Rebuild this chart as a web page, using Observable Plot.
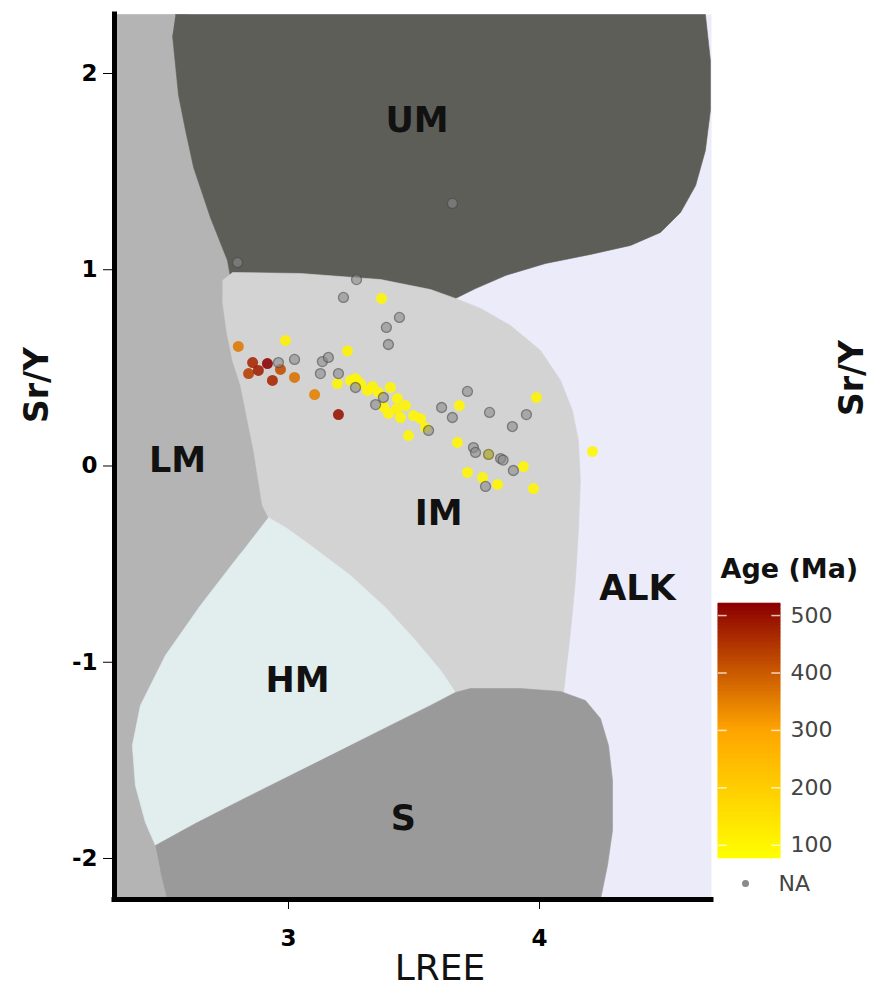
<!DOCTYPE html>
<html>
<head>
<meta charset="utf-8">
<script src="https://cdn.jsdelivr.net/npm/d3@7"></script>
<script src="https://cdn.jsdelivr.net/npm/@observablehq/plot@0.6"></script>
<style>
  body { margin: 0; background: #fff; font-family: "DejaVu Sans", sans-serif; }
  #wrap { position: relative; width: 871px; height: 991px; overflow: hidden; background: #fff; }
  #legend { position: absolute; left: 712px; top: 560px; }
</style>
</head>
<body>
<div id="wrap"><div id="main"></div><div id="legend"></div></div>
<script>
// ---------- axes ----------
const xDomain = [2.3068, 4.6853];
const yDomain = [-2.209, 2.3006];
const xTicks = [3, 4];
const yTicks = [-2, -1, 0, 1, 2];
const ageTicks = [100, 200, 300, 400, 500];
const ageDomain = [77, 521];

// ---------- classification fields (data units: LREE, Sr/Y) ----------
const regionLM = [[2.3068, 2.3006], [2.60, 2.3006], [2.70, 1.30], [2.80, 0.95], [2.85, 0.50], [2.95, -0.20], [2.95, -0.50], [2.60, -1.20], [2.60, -2.209], [2.3068, -2.209]];
const regionUM = [[2.550, 2.3006], [4.661, 2.3006], [4.681, 2.066], [4.681, 1.811], [4.661, 1.608], [4.622, 1.429], [4.562, 1.292], [4.482, 1.190], [4.363, 1.124], [4.203, 1.078], [4.024, 1.032], [3.865, 0.971], [3.745, 0.904], [3.665, 0.854], [3.526, 0.874], [3.247, 0.915], [2.888, 0.935], [2.769, 0.960], [2.757, 1.047], [2.689, 1.266], [2.622, 1.521], [2.590, 1.710], [2.562, 1.889], [2.550, 2.041], [2.538, 2.194]];
const regionIM = [[2.737, 0.945], [2.777, 0.986], [3.048, 0.981], [3.367, 0.950], [3.566, 0.899], [3.665, 0.854], [3.765, 0.803], [3.884, 0.716], [4.004, 0.589], [4.084, 0.436], [4.131, 0.283], [4.155, 0.130], [4.163, -0.074], [4.155, -0.329], [4.143, -0.583], [4.124, -0.838], [4.108, -1.017], [4.096, -1.154], [3.665, -1.154], [3.606, -1.042], [3.506, -0.889], [3.386, -0.721], [3.247, -0.558], [3.088, -0.405], [2.988, -0.313], [2.920, -0.262], [2.896, -0.201], [2.880, -0.074], [2.861, 0.079], [2.837, 0.232], [2.809, 0.410], [2.777, 0.538], [2.753, 0.690], [2.737, 0.843]];
const regionHM = [[2.920, -0.262], [2.988, -0.313], [3.088, -0.405], [3.247, -0.558], [3.386, -0.721], [3.506, -0.889], [3.606, -1.042], [3.665, -1.154], [3.566, -1.220], [3.406, -1.322], [3.207, -1.450], [3.008, -1.577], [2.809, -1.704], [2.629, -1.822], [2.470, -1.934], [2.430, -1.817], [2.390, -1.628], [2.378, -1.424], [2.410, -1.220], [2.510, -0.965], [2.649, -0.711], [2.809, -0.446]];
const regionS = [[2.470, -1.934], [2.629, -1.822], [2.809, -1.704], [3.008, -1.577], [3.207, -1.450], [3.406, -1.322], [3.566, -1.220], [3.665, -1.154], [3.725, -1.134], [3.924, -1.134], [4.084, -1.149], [4.183, -1.195], [4.243, -1.287], [4.275, -1.424], [4.291, -1.603], [4.291, -1.857], [4.271, -2.035], [4.243, -2.209], [2.518, -2.209], [2.490, -2.062]];

const regionNames = ["UM", "LM", "IM", "ALK", "HM", "S"];
const labelX = [3.512, 2.558, 3.598, 4.390, 3.036, 3.458];
const labelY = [1.758, 0.028, -0.242, -0.624, -1.093, -1.796];

// ---------- samples with age ----------
const ageX = [2.800, 2.988, 2.857, 2.841, 2.880, 2.916, 2.936, 2.968, 3.024, 3.104, 3.199,
  3.371, 3.235, 3.195, 3.247, 3.267, 3.287, 3.315, 3.335, 3.359, 3.406, 3.434, 3.398, 3.446, 3.466, 3.498, 3.526, 3.478, 3.546,
  3.681, 3.988, 3.673, 3.797, 3.936, 3.713, 3.773, 3.833, 3.976, 4.211, 3.380, 3.430];
const ageY = [0.609, 0.640, 0.527, 0.471, 0.487, 0.522, 0.436, 0.492, 0.451, 0.364, 0.262,
  0.854, 0.586, 0.420, 0.436, 0.446, 0.420, 0.385, 0.405, 0.375, 0.400, 0.344, 0.268, 0.247, 0.308, 0.257, 0.242, 0.155, 0.196,
  0.308, 0.349, 0.120, 0.059, -0.003, -0.033, -0.059, -0.094, -0.115, 0.074, 0.300, 0.290];
const ageMa = [360, 115, 470, 440, 480, 520, 470, 420, 370, 350, 500,
  100, 110, 105, 100, 100, 100, 100, 105, 100, 100, 100, 100, 100, 105, 100, 100, 100, 100,
  100, 105, 100, 110, 100, 100, 100, 100, 100, 100, 100, 110];

// ---------- samples without age (NA) ----------
const naX = [2.797, 3.653, 2.960, 3.024, 3.135, 3.159, 3.127, 3.199, 3.219, 3.271, 3.442, 3.390, 3.398, 3.267, 3.378, 3.347,
  3.558, 3.610, 3.653, 3.713, 3.801, 3.892, 3.948, 3.737, 3.745, 3.797, 3.845, 3.855, 3.896, 3.785];
const naY = [1.037, 1.338, 0.527, 0.543, 0.532, 0.553, 0.471, 0.471, 0.859, 0.950, 0.757, 0.706, 0.619, 0.400, 0.349, 0.313,
  0.181, 0.298, 0.247, 0.380, 0.273, 0.201, 0.262, 0.094, 0.069, 0.059, 0.038, 0.030, -0.023, -0.104];

const agePts = ageX.map((x, i) => ({x, y: ageY[i], age: ageMa[i]}));
const naPts = naX.map((x, i) => ({x, y: naY[i]}));

const colorOpts = {type: "linear", domain: [77, 299, 521], range: ["#ffff00", "#ffa500", "#8b0000"], interpolate: "rgb"};
const font = "DejaVu Sans";

const poly = (pts, fill) => Plot.line(pts, {x: d => d[0], y: d => d[1], fill, stroke: fill, strokeWidth: 0.6, curve: "linear"});

const main = Plot.plot({
  width: 871, height: 991,
  marginLeft: 114, marginRight: 160, marginTop: 14, marginBottom: 92,
  style: {fontFamily: font, background: "white"},
  x: {domain: xDomain},
  y: {domain: yDomain},
  color: colorOpts,
  marks: [
    Plot.frame({fill: "#ebebfa", stroke: "none"}),
    poly(regionLM, "#b4b4b4"),
    poly(regionUM, "#5e5e59"),
    poly(regionIM, "#d3d3d3"),
    poly(regionHM, "#e2eded"),
    poly(regionS, "#9a9a9a"),
    Plot.text(regionNames, {x: (d, i) => labelX[i], y: (d, i) => labelY[i], text: d => d, fontSize: 35, fontWeight: "bold", fill: "#111"}),
    Plot.dot(agePts, {x: "x", y: "y", fill: "age", r: 5.5, fillOpacity: 0.88}),
    Plot.dot(naPts, {x: "x", y: "y", fill: "#8a8a8a", fillOpacity: 0.6, stroke: "#444", strokeOpacity: 0.55, strokeWidth: 1.3, r: 5}),
    Plot.axisY({ticks: yTicks, tickSize: 11, tickPadding: 6, fontSize: 23, fontWeight: "bold", label: null, tickFormat: d => String(d)}),
    Plot.axisX({ticks: xTicks, tickSize: 10, tickPadding: 20, fontSize: 23, fontWeight: "bold", label: null, tickFormat: d => String(d)}),
    Plot.ruleX([xDomain[0]], {stroke: "#000", strokeWidth: 5, strokeLinecap: "square"}),
    Plot.ruleY([yDomain[0]], {stroke: "#000", strokeWidth: 5, strokeLinecap: "square"}),
    Plot.text(["LREE"], {frameAnchor: "bottom", textAnchor: "middle", dx: 27, dy: 80, fontSize: 36, fill: "#111"}),
    Plot.text(["Sr/Y"], {frameAnchor: "left", textAnchor: "middle", lineAnchor: "middle", dx: -77, dy: -72, rotate: -90, fontSize: 33, fontWeight: "bold", fill: "#111"}),
    Plot.text(["Sr/Y"], {frameAnchor: "right", textAnchor: "middle", lineAnchor: "middle", dx: 141, dy: -79, rotate: -90, fontSize: 33, fontWeight: "bold", fill: "#111"})
  ]
});
document.getElementById("main").appendChild(main);

const legend = Plot.plot({
  width: 159, height: 340,
  marginLeft: 6, marginRight: 91, marginTop: 43, marginBottom: 42,
  style: {fontFamily: font, background: "transparent", overflow: "visible"},
  x: {domain: [0, 1], axis: null},
  y: {domain: ageDomain, axis: null},
  color: colorOpts,
  marks: [
    Plot.rect(d3.range(ageDomain[0], ageDomain[1], 1), {x1: 0, x2: 1, y1: d => d, y2: d => Math.min(d + 1.3, ageDomain[1]), fill: d => d, stroke: d => d, strokeWidth: 0.6}),
    Plot.ruleY(ageTicks, {x1: 0, x2: 0.14, stroke: "#fff", strokeOpacity: 0.75, strokeWidth: 1.5}),
    Plot.ruleY(ageTicks, {x1: 0.86, x2: 1, stroke: "#fff", strokeOpacity: 0.75, strokeWidth: 1.5}),
    Plot.text(ageTicks, {x: 1, y: d => d, dx: 10, textAnchor: "start", text: d => String(d), fontSize: 22, fill: "#444"}),
    Plot.text(["Age (Ma)"], {frameAnchor: "top-left", textAnchor: "start", lineAnchor: "middle", dx: 2, dy: -34, fontSize: 27, fontWeight: "bold", fill: "#111"}),
    Plot.dot(["NA"], {frameAnchor: "bottom-left", dx: 27, dy: 25, r: 3.5, fill: "#8a8a8a"}),
    Plot.text(["NA"], {frameAnchor: "bottom-left", textAnchor: "start", lineAnchor: "middle", dx: 60, dy: 25, text: d => d, fontSize: 22, fill: "#444"})
  ]
});
document.getElementById("legend").appendChild(legend);
</script>
</body>
</html>
